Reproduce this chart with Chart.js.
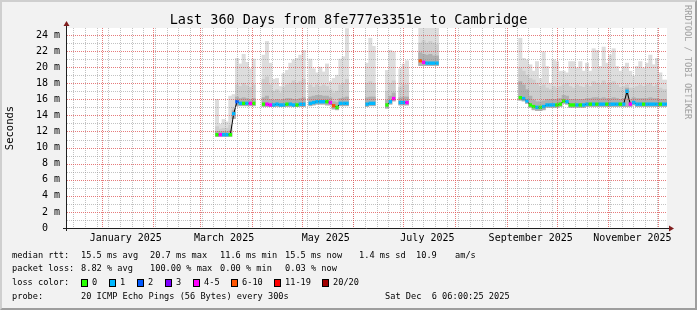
<!DOCTYPE html>
<html>
<head>
<meta charset="utf-8">
<script src="https://cdn.jsdelivr.net/npm/chart.js@4.4.1/dist/chart.umd.min.js"></script>
<style>
  html, body { margin: 0; padding: 0; background: #f2f2f2; }
  #wrap { position: relative; width: 697px; height: 310px; background: #f2f2f2; overflow: hidden;
          font-family: "DejaVu Sans Mono", monospace; color: #000; }
  #myChart { position: absolute; left: 0; top: 0; }
  #frame { position: absolute; left: 0; top: 0; width: 697px; height: 310px; box-sizing: border-box; pointer-events: none;
           border-top: 2px solid #cfcfcf; border-left: 2px solid #cfcfcf;
           border-right: 2px solid #9e9e9e; border-bottom: 2px solid #9e9e9e; }
  #title { position: absolute; left: 0; top: 11px; width: 697px; text-align: center; white-space: pre;
           font-size: 13.5px; line-height: 16px; }
  #mark { position: absolute; left: 683px; top: 5px; writing-mode: vertical-rl; white-space: pre;
          font-size: 8.65px; line-height: 10px; color: #a0a0a0; }
  .t { position: absolute; white-space: pre; font-size: 8.65px; line-height: 10px; }
  .box { position: absolute; width: 7px; height: 8px; box-sizing: border-box; border: 1px solid #000; }
</style>
</head>
<body>
<div id="wrap">
  <canvas id="myChart" width="697" height="310"></canvas>
  <div id="title">Last 360 Days from 8fe777e3351e to Cambridge</div>
  <div id="mark">RRDTOOL / TOBI OETIKER</div>

  <div class="t" style="left:12px;top:250px">median rtt:</div>
  <div class="t" style="left:81px;top:250px">15.5 ms avg</div>
  <div class="t" style="left:150px;top:250px">20.7 ms max</div>
  <div class="t" style="left:220px;top:250px">11.6 ms min</div>
  <div class="t" style="left:285px;top:250px">15.5 ms now</div>
  <div class="t" style="left:359px;top:250px">1.4 ms sd</div>
  <div class="t" style="left:416px;top:250px">10.9</div>
  <div class="t" style="left:455px;top:250px">am/s</div>

  <div class="t" style="left:12px;top:263px">packet loss:</div>
  <div class="t" style="left:81px;top:263px">8.82 % avg</div>
  <div class="t" style="left:150px;top:263px">100.00 % max</div>
  <div class="t" style="left:220px;top:263px">0.00 % min</div>
  <div class="t" style="left:285px;top:263px">0.03 % now</div>

  <div class="t" style="left:12px;top:277px">loss color:</div>
  <div id="lossLegend"></div>

  <div class="t" style="left:12px;top:291px">probe:</div>
  <div class="t" style="left:81px;top:291px">20 ICMP Echo Pings (56 Bytes) every 300s</div>
  <div class="t" style="left:385px;top:291px">Sat Dec  6 06:00:25 2025</div>
  <div id="frame"></div>
</div>
<script>
// loss colours as smokeping draws them
var lossLabels = ['0', '1', '2', '3', '4-5', '6-10', '11-19', '20/20'];
var lossColors = ['#26ff00', '#00b8ff', '#0059ff', '#7e00ff', '#ff00ff', '#ff5500', '#ff0000', '#a10000'];

// month labels on the x axis
var monthLabels = ['January 2025', 'March 2025', 'May 2025', 'July 2025', 'September 2025', 'November 2025'];
var labelMonths = [0, 2, 4, 6, 8, 10];

// one bucket every 2 days, first bucket is day 88 of the 360 day window
var firstDay = 88;
var stepDays = 2;
var _ = null;

// median rtt in ms
var medianRtt = [
  _,
  11.6, 11.6, 11.6, 11.6, 11.6, 14.2,
  15.7, 15.5, 15.5, 15.5, 15.5, 15.5,
  _, _,
  15.4, 15.4, 15.3, 15.3, 15.4, 15.3, 15.3, 15.4, 15.4, 15.3, 15.3, 15.4, 15.4,
  _,
  15.5, 15.6, 15.7, 15.7, 15.7, 15.7, 15.6,
  15.2, 15.0, 15.5, 15.5, 15.5,
  _, _, _, _, _,
  15.4, 15.5, 15.5,
  _, _, _,
  15.3, 15.7, 16.1,
  _,
  15.6, 15.6, 15.6,
  _, _, _,
  20.8, 20.6, 20.5, 20.5, 20.5, 20.5,
  _, _, _, _, _, _, _, _, _, _, _, _,
  _, _, _, _, _, _, _, _, _, _, _, _,
  16.2, 16.1, 15.8, 15.3, 15.1, 15.0, 15.0, 15.1, 15.3, 15.3,
  15.3, 15.3, 15.4, 15.8, 15.7, 15.3, 15.3, 15.3, 15.3, 15.3,
  15.4, 15.4, 15.4, 15.4, 15.4, 15.4, 15.4, 15.4, 15.4, 15.4,
  15.4, 15.4, 17.0, 15.4, 15.6, 15.4, 15.4, 15.4, 15.4, 15.4,
  15.4, 15.4, 15.4, 15.4, 15.4
];

// index into lossColors for every bucket
var lossBin = [
  _,
  0, 4, 1, 1, 0, 1,
  2, 1, 0, 1, 4, 0,
  _, _,
  0, 4, 4, 1, 1, 1, 1, 0, 1, 1, 0, 1, 1,
  _,
  1, 1, 1, 1, 1, 0, 4,
  5, 0, 1, 1, 1,
  _, _, _, _, _,
  1, 1, 1,
  _, _, _,
  0, 1, 4,
  _,
  1, 1, 4,
  _, _, _,
  5, 4, 1, 1, 1, 1,
  _, _, _, _, _, _, _, _, _, _, _, _,
  _, _, _, _, _, _, _, _, _, _, _, _,
  0, 1, 1, 0, 0, 1, 0, 1, 1, 1,
  1, 0, 0, 0, 1, 0, 0, 1, 0, 1,
  1, 0, 1, 0, 1, 1, 0, 1, 1, 1,
  0, 1, 1, 4, 1, 1, 1, 0, 1, 1,
  1, 1, 0, 1, 1
];

// smoke: lowest ping, top of dark, top of medium, highest ping (ms)
var smokeMin = [
  _,
  11.4, 11.4, 11.4, 11.4, 11.4, 13.6,
  15.2, 15.2, 15.2, 15.2, 15.2, 15.2,
  _, _,
  15.1, 15.1, 15.1, 15.1, 15.1, 15.1, 15.1, 15.1, 15.1, 15.1, 15.1, 15.1, 15.1,
  _,
  15.2, 15.3, 15.4, 15.4, 15.4, 15.3, 15.3,
  14.8, 14.7, 15.2, 15.2, 15.2,
  _, _, _, _, _,
  15.1, 15.2, 15.2,
  _, _, _,
  14.9, 15.4, 15.8,
  _,
  15.3, 15.3, 15.3,
  _, _, _,
  20.2, 20.2, 20.2, 20.2, 20.2, 20.2,
  _, _, _, _, _, _, _, _, _, _, _, _,
  _, _, _, _, _, _, _, _, _, _, _, _,
  15.9, 15.8, 15.5, 15.0, 14.7, 14.6, 14.6, 14.7, 15.0, 15.0,
  15.0, 15.0, 15.1, 15.5, 15.4, 15.0, 15.0, 15.0, 15.0, 15.0,
  15.1, 15.1, 15.1, 15.1, 15.1, 15.1, 15.1, 15.1, 15.1, 15.1,
  15.1, 15.1, 15.1, 15.1, 15.3, 15.1, 15.1, 15.1, 15.1, 15.1,
  15.1, 15.1, 15.1, 15.1, 15.1
];
var smokeDark = [
  _,
  12.0, 12.0, 12.0, 12.0, 12.1, 14.6,
  16.3, 16.1, 16.2, 16.1, 16.0, 16.1,
  _, _,
  16.2, 16.4, 16.0, 15.9, 16.0, 15.9, 16.0, 16.1, 16.1, 16.0, 16.0, 16.1, 16.2,
  _,
  16.3, 16.4, 16.5, 16.5, 16.4, 16.4, 16.2,
  15.7, 15.6, 16.1, 16.2, 16.3,
  _, _, _, _, _,
  16.2, 16.3, 16.3,
  _, _, _,
  15.9, 16.4, 16.8,
  _,
  16.2, 16.3, 16.3,
  _, _, _,
  21.8, 21.6, 21.5, 21.6, 21.4, 21.4,
  _, _, _, _, _, _, _, _, _, _, _, _,
  _, _, _, _, _, _, _, _, _, _, _, _,
  18.2, 17.8, 17.2, 16.4, 15.9, 15.7, 15.7, 15.8, 16.0, 16.0,
  16.0, 16.0, 16.1, 16.5, 16.4, 16.0, 16.0, 16.0, 16.0, 16.0,
  16.1, 16.1, 16.2, 16.2, 16.1, 16.2, 16.1, 16.1, 16.2, 16.1,
  16.0, 16.1, 17.4, 16.0, 16.2, 16.1, 16.1, 16.1, 16.1, 16.2,
  16.1, 16.1, 16.0, 16.0, 16.0
];
var smokeMid = [
  _,
  12.6, 12.3, 12.4, 12.4, 12.8, 15.0,
  17.8, 17.6, 18.0, 17.7, 17.5, 17.8,
  _, _,
  18.5, 18.8, 17.8, 17.0, 17.2, 16.8, 17.5, 17.8, 18.0, 18.3, 18.0, 18.2, 18.5,
  _,
  17.8, 17.5, 17.8, 17.6, 17.8, 17.6, 17.2,
  16.8, 17.0, 17.8, 18.0, 18.5,
  _, _, _, _, _,
  18.0, 18.2, 18.0,
  _, _, _,
  17.0, 18.0, 18.3,
  _,
  17.5, 17.8, 17.8,
  _, _, _,
  23.0, 23.3, 23.0, 23.2, 23.0, 22.8,
  _, _, _, _, _, _, _, _, _, _, _, _,
  _, _, _, _, _, _, _, _, _, _, _, _,
  19.9, 19.5, 19.0, 18.6, 18.4, 18.0, 17.6, 17.8, 17.4, 17.2,
  17.6, 17.4, 17.6, 17.8, 18.0, 17.6, 17.4, 17.8, 17.6, 17.5,
  17.8, 17.6, 18.2, 18.0, 17.8, 18.3, 17.8, 18.0, 18.2, 17.8,
  17.5, 17.6, 17.8, 17.4, 17.4, 17.6, 17.8, 17.6, 17.8, 18.0,
  17.6, 17.8, 17.4, 17.2, 17.2
];
var smokeMax = [
  _,
  16.0, 12.9, 13.5, 13.2, 16.4, 16.6,
  21.1, 20.4, 21.6, 20.6, 19.8, 21.0,
  _, _,
  21.5, 23.2, 20.5, 18.5, 18.6, 17.6, 19.2, 19.6, 20.5, 20.9, 21.1, 21.5, 22.1,
  _,
  21.0, 19.8, 19.3, 20.0, 19.4, 20.4, 18.2,
  18.6, 19.0, 21.0, 21.3, 24.8,
  _, _, _, _, _,
  20.5, 23.6, 22.6,
  _, _, _,
  19.6, 22.1, 21.9,
  _,
  19.8, 20.4, 20.8,
  _, _, _,
  25.5, 25.5, 25.5, 25.5, 25.5, 25.5,
  _, _, _, _, _, _, _, _, _, _, _, _,
  _, _, _, _, _, _, _, _, _, _, _, _,
  23.6, 21.1, 20.9, 20.3, 19.5, 20.7, 18.6, 21.9, 20.1, 18.0,
  20.9, 20.7, 19.5, 19.5, 19.3, 20.7, 20.7, 19.9, 20.7, 19.5,
  20.5, 19.5, 22.3, 22.1, 20.1, 22.5, 20.5, 21.5, 22.3, 20.1,
  19.5, 20.1, 20.5, 19.5, 18.9, 20.1, 20.7, 19.9, 20.5, 21.5,
  20.3, 21.1, 19.3, 18.4, 18.4
];

// time axis: 360 days ending Sat Dec 6 2025 06:00:25
var startMs = Date.UTC(2024, 11, 11, 6, 0, 25);
function dayOf(y, m, d, h) { return (Date.UTC(y, m, d, h || 0) - startMs) / 864e5; }

var labelDays = labelMonths.map(function (m) { return dayOf(2025, m, 15, 12); });
// vertical grid: red month lines, gray weekly lines
var monthDays = [];
for (var m = 0; m < 12; m++) monthDays.push(dayOf(2025, m, 1));
var weekDays = [];
for (var w = dayOf(2024, 11, 15); w <= 360; w += 7) weekDays.push(w);
var yTicks = [];
for (var t = 0; t <= 24; t++) yTicks.push(t);

function series(values) {
  return values.map(function (v, i) { return { x: firstDay + i * stepDays, y: v }; });
}
function band(lo, hi) {
  return lo.map(function (v, i) {
    return { x: firstDay + i * stepDays, y: v === null ? null : [v, hi[i]] };
  });
}
function toTicks(list) { return list.map(function (v) { return { value: v }; }); }

var mono = 'DejaVu Sans Mono';
var gridColor = 'rgba(143,143,143,0.55)';
var mgridColor = 'rgba(222,79,79,0.75)';

// loss colour legend in the footer
var boxX = [81, 109, 137, 165, 193, 231, 274, 322];
var legendHtml = '';
lossLabels.forEach(function (lab, i) {
  legendHtml += '<div class="box" style="left:' + boxX[i] + 'px;top:279px;background:' + lossColors[i] + '"></div>';
  legendHtml += '<div class="t" style="left:' + (boxX[i] + 11) + 'px;top:277px">' + lab + '</div>';
});
document.getElementById('lossLegend').innerHTML = legendHtml;

// white canvas, dotted grid over the data, axis lines and arrows like rrdtool
var rrdFrame = {
  id: 'rrdFrame',
  beforeDraw: function (chart) {
    var a = chart.chartArea, c = chart.ctx;
    c.save();
    c.fillStyle = '#ffffff';
    c.fillRect(a.left, a.top, a.right - a.left, a.bottom - a.top);
    c.restore();
  },
  afterDatasetsDraw: function (chart) {
    var a = chart.chartArea, c = chart.ctx;
    var xs = chart.scales.x, ys = chart.scales.y;
    function vline(d) {
      var px = Math.round(xs.getPixelForValue(d)) + 0.5;
      if (px <= a.left || px > a.right) return;
      c.moveTo(px, a.top); c.lineTo(px, a.bottom);
    }
    function hline(v) {
      var py = Math.round(ys.getPixelForValue(v)) + 0.5;
      c.moveTo(a.left, py); c.lineTo(a.right, py);
    }
    c.save();
    c.lineWidth = 1;
    c.setLineDash([1, 1]);
    c.strokeStyle = gridColor;
    c.beginPath();
    weekDays.forEach(vline);
    yTicks.forEach(function (v) { if (v % 2 !== 0) hline(v); });
    c.stroke();
    c.strokeStyle = mgridColor;
    c.beginPath();
    monthDays.forEach(vline);
    yTicks.forEach(function (v) { if (v % 2 === 0 && v > 0) hline(v); });
    c.stroke();
    c.restore();
  },
  afterDraw: function (chart) {
    var a = chart.chartArea, c = chart.ctx;
    c.save();
    c.strokeStyle = '#1f1f1f';
    c.lineWidth = 1;
    c.beginPath();
    c.moveTo(a.left - 4, a.bottom + 0.5); c.lineTo(a.right + 3, a.bottom + 0.5);
    c.moveTo(a.left - 0.5, a.bottom + 3); c.lineTo(a.left - 0.5, a.top - 3);
    c.stroke();
    c.fillStyle = '#801f1f';
    c.beginPath();
    c.moveTo(a.right + 2, a.bottom - 2.5); c.lineTo(a.right + 7, a.bottom + 0.5); c.lineTo(a.right + 2, a.bottom + 3.5);
    c.fill();
    c.beginPath();
    c.moveTo(a.left - 3.5, a.top - 2); c.lineTo(a.left - 0.5, a.top - 7); c.lineTo(a.left + 2.5, a.top - 2);
    c.fill();
    c.restore();
  }
};

var barStyle = { grouped: false, categoryPercentage: 1, barPercentage: 1, borderWidth: 0 };

var ctx = document.getElementById('myChart');
var myChart = new Chart(ctx, {
  type: 'bar',
  data: {
    datasets: [
      {
        type: 'line',
        data: series(medianRtt),
        showLine: false,
        pointStyle: 'rect',
        pointRadius: 2.4,
        pointBorderWidth: 0,
        pointBackgroundColor: function (c) { return lossColors[lossBin[c.dataIndex]]; },
        order: 0
      },
      {
        type: 'line',
        data: series(medianRtt),
        borderColor: '#000000',
        borderWidth: 1,
        pointRadius: 0,
        spanGaps: false,
        order: 1
      },
      Object.assign({ data: band(smokeMin, smokeDark), backgroundColor: '#b0b0b0', order: 2 }, barStyle),
      Object.assign({ data: band(smokeMin, smokeMid), backgroundColor: '#cdcdcd', order: 3 }, barStyle),
      Object.assign({ data: band(smokeMin, smokeMax), backgroundColor: '#dddddd', order: 4 }, barStyle)
    ]
  },
  options: {
    responsive: false,
    animation: false,
    events: [],
    layout: { padding: { left: 0, top: 28, right: 30, bottom: 62 } },
    plugins: { legend: { display: false }, tooltip: { enabled: false } },
    scales: {
      x: {
        type: 'linear', min: 0, max: 360, position: 'bottom', offset: false,
        afterBuildTicks: function (s) { s.ticks = toTicks(labelDays); },
        afterFit: function (s) { s.height = 20; },
        grid: { display: false, drawTicks: false, offset: false },
        border: { display: false },
        ticks: {
          autoSkip: false, maxRotation: 0, padding: 4, color: '#000',
          font: { family: mono, size: 10 },
          callback: function (v, i) { return monthLabels[i]; }
        }
      },
      y: {
        type: 'linear', min: 0, max: 24.87, position: 'left',
        afterBuildTicks: function (s) { s.ticks = toTicks(yTicks); },
        afterFit: function (s) { s.width = 67; },
        grid: { display: false, drawTicks: false },
        border: { display: false },
        title: { display: true, text: 'Seconds', color: '#000', font: { family: mono, size: 10.5 }, padding: { top: 4, bottom: 0 } },
        ticks: {
          autoSkip: false, padding: 7, color: '#000',
          font: { family: mono, size: 10 },
          callback: function (v) {
            if (v % 2 !== 0) return '';
            return v === 0 ? '0  ' : v + ' m';
          }
        }
      }
    }
  },
  plugins: [rrdFrame]
});
</script>
</body>
</html>
